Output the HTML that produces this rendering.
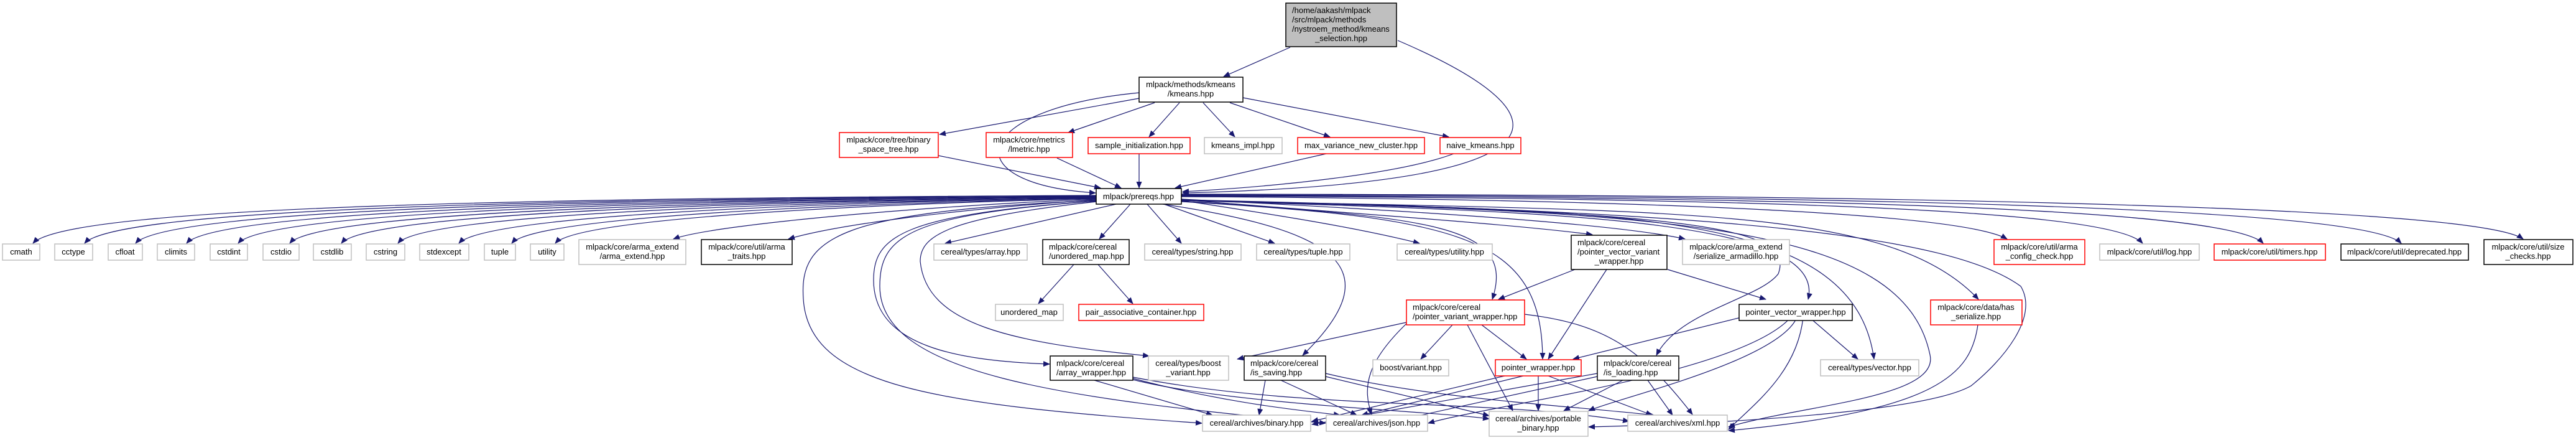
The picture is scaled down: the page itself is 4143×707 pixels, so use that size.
<!DOCTYPE html>
<html><head><meta charset="utf-8"><style>
html,body{margin:0;padding:0;background:#fff;}
svg{display:block;}
text{font-family:"Liberation Sans",Arial,sans-serif;font-size:13px;fill:#000;}
.e{fill:none;stroke:#191970;stroke-width:1.2;marker-end:url(#a);}
.g{fill:#fff;stroke:#bfbfbf;stroke-width:1.5}
.r{fill:#fff;stroke:#ff0000;stroke-width:1.5}
.b{fill:#fff;stroke:#000;stroke-width:1.5}
</style></head><body>
<svg width="4143" height="707" viewBox="0 0 4143 707" xmlns="http://www.w3.org/2000/svg">
<defs><marker id="a" markerWidth="11" markerHeight="9" refX="10" refY="4.5" orient="auto" markerUnits="userSpaceOnUse"><path d="M0,0 L11,4.5 L0,9 z" fill="#191970"/></marker></defs>

<!-- edges top -->
<path class="e" d="M2075,76 L1968,123"/>
<path class="e" d="M2248,65 C2540,190 2530,295 1902,310"/>
<path class="e" d="M1832,158 L1511,216"/>
<path class="e" d="M1832,149 C1560,175 1530,295 1762,310"/>
<path class="e" d="M1857,165 L1718,213"/>
<path class="e" d="M1897,165 L1848,220"/>
<path class="e" d="M1935,165 L1986,220"/>
<path class="e" d="M1978,165 L2139,220"/>
<path class="e" d="M1999,157 L2330,220"/>
<path class="e" d="M1509,250 L1770,302"/>
<path class="e" d="M1700,254 L1803,302"/>
<path class="e" d="M1832,247 L1832,302"/>
<path class="e" d="M2133,247 L1890,302"/>
<path class="e" d="M2338,247 C2250,280 2050,300 1902,308"/>

<!-- prereqs to left row -->
<path class="e" d="M1764,314 C900,318 110,330 53,391"/>
<path class="e" d="M1764,315 C950,319 190,332 136,391"/>
<path class="e" d="M1764,315 C1000,320 270,334 218,391"/>
<path class="e" d="M1764,316 C1050,321 350,336 300,391"/>
<path class="e" d="M1764,316 C1100,322 430,338 383,391"/>
<path class="e" d="M1764,317 C1150,323 510,340 466,391"/>
<path class="e" d="M1764,317 C1200,324 590,342 549,391"/>
<path class="e" d="M1764,318 C1250,325 680,344 640,391"/>
<path class="e" d="M1764,318 C1300,326 780,346 738,391"/>
<path class="e" d="M1764,319 C1350,327 860,348 823,391"/>
<path class="e" d="M1764,319 C1400,328 930,350 893,391"/>
<path class="e" d="M1764,320 C1500,330 1150,360 1083,384"/>
<path class="e" d="M1764,321 C1550,335 1350,360 1268,384"/>
<path class="e" d="M1795,328 L1520,391"/>
<path class="e" d="M1818,328 L1768,384"/>
<path class="e" d="M1845,328 L1900,391"/>
<path class="e" d="M1872,328 L2050,391"/>
<path class="e" d="M1900,322 C2050,345 2180,365 2283,391"/>
<path class="e" d="M1900,321 C2200,345 2430,360 2561,377"/>
<path class="e" d="M1900,320 C2300,340 2600,360 2710,384"/>
<path class="e" d="M1900,316 C2600,320 3150,340 3228,384"/>
<path class="e" d="M1900,315 C2700,318 3390,330 3446,391"/>
<path class="e" d="M1900,314 C2800,316 3580,330 3640,391"/>
<path class="e" d="M1900,313 C2900,314 3800,330 3862,391"/>
<path class="e" d="M1900,312 C3000,312 3980,330 4058,384"/>
<!-- prereqs to lower nodes -->
<path class="e" d="M1900,323 C2300,350 2440,360 2400,481"/>
<path class="e" d="M1900,324 C2350,350 2480,380 2481,577"/>
<path class="e" d="M1900,322 C2500,340 2940,350 2908,481"/>
<path class="e" d="M1900,322 C2700,340 3040,330 3182,481"/>
<path class="e" d="M1900,322 C2600,340 2980,330 3014,577"/>
<path class="e" d="M1900,322 C2700,340 2890,360 2860,440 C2830,480 2700,500 2664,571"/>
<path class="e" d="M1900,322 C2700,340 3060,360 3104,570 C3120,640 2900,650 2780,686"/>
<path class="e" d="M1900,321 C2800,340 3140,380 3250,460 C3280,510 3220,580 3170,620 C3100,660 2800,680 2555,686"/>
<path class="e" d="M1764,322 C1350,340 1285,380 1292,480 C1300,620 1500,650 1933,680"/>
<path class="e" d="M1764,323 C1450,345 1405,380 1405,450 C1405,560 1550,580 1688,585"/>
<path class="e" d="M1764,324 C1520,350 1480,380 1480,420 C1490,520 1620,550 1848,572"/>
<path class="e" d="M1764,323 C1460,345 1415,380 1415,460 C1415,600 1700,640 2132,680"/>
<path class="e" d="M1870,328 C2150,370 2240,430 2095,571"/>

<!-- mid edges -->
<path class="e" d="M1727,425 L1670,488"/>
<path class="e" d="M1766,425 L1822,488"/>
<path class="e" d="M2533,433 L2410,481"/>
<path class="e" d="M2584,433 L2490,577"/>
<path class="e" d="M2682,433 L2840,481"/>
<path class="e" d="M2262,518 L1990,577"/>
<path class="e" d="M2336,522 L2285,577"/>
<path class="e" d="M2383,522 L2455,577"/>
<path class="e" d="M2262,520 C2200,580 2190,620 2206,666"/>
<path class="e" d="M2360,522 L2433,660"/>
<path class="e" d="M2452,505 C2580,520 2640,560 2722,666"/>
<path class="e" d="M2800,510 L2530,577"/>
<path class="e" d="M2910,510 L2988,577"/>
<path class="e" d="M2890,510 C2860,580 2600,640 2555,660"/>
<path class="e" d="M2880,510 C2800,600 2400,650 2297,680"/>
<path class="e" d="M2900,510 C2890,600 2820,650 2780,690"/>
<path class="e" d="M3181,522 C3170,600 3120,660 2780,692"/>
<!-- bottom edges -->
<path class="e" d="M1760,611 L1950,667"/>
<path class="e" d="M1822,608 C1980,650 2100,660 2155,667"/>
<path class="e" d="M1822,610 C1980,650 2300,660 2395,673"/>
<path class="e" d="M1822,606 C2100,660 2400,640 2620,677"/>
<path class="e" d="M2035,611 L2025,667"/>
<path class="e" d="M2060,611 L2182,667"/>
<path class="e" d="M2132,605 L2395,668"/>
<path class="e" d="M2132,600 C2300,640 2500,650 2660,667"/>
<path class="e" d="M2420,604 L2110,677"/>
<path class="e" d="M2450,604 L2190,667"/>
<path class="e" d="M2474,604 L2474,660"/>
<path class="e" d="M2490,604 L2657,667"/>
<path class="e" d="M2569,600 L2110,682"/>
<path class="e" d="M2569,605 L2240,677"/>
<path class="e" d="M2610,611 L2515,660"/>
<path class="e" d="M2650,611 L2690,667"/>

<!-- nodes -->
<rect x="2068" y="5" width="178" height="70" fill="#bfbfbf" stroke="#000" stroke-width="1.5"/>
<text x="2078" y="21">/home/aakash/mlpack</text>
<text x="2078" y="36">/src/mlpack/methods</text>
<text x="2078" y="51">/nystroem_method/kmeans</text>
<text x="2157" y="66" text-anchor="middle">_selection.hpp</text>

<rect class="b" x="1832" y="124" width="167" height="40"/>
<text x="1915" y="140" text-anchor="middle">mlpack/methods/kmeans</text>
<text x="1915" y="155" text-anchor="middle">/kmeans.hpp</text>

<rect class="r" x="1350" y="213" width="159" height="40"/>
<text x="1429" y="229" text-anchor="middle">mlpack/core/tree/binary</text>
<text x="1429" y="244" text-anchor="middle">_space_tree.hpp</text>
<rect class="r" x="1586" y="213" width="139" height="40"/>
<text x="1655" y="229" text-anchor="middle">mlpack/core/metrics</text>
<text x="1655" y="244" text-anchor="middle">/lmetric.hpp</text>
<rect class="r" x="1750" y="221" width="164" height="26"/>
<text x="1832" y="238" text-anchor="middle">sample_initialization.hpp</text>
<rect class="g" x="1937" y="221" width="125" height="26"/>
<text x="1999" y="238" text-anchor="middle">kmeans_impl.hpp</text>
<rect class="r" x="2087" y="221" width="204" height="26"/>
<text x="2189" y="238" text-anchor="middle">max_variance_new_cluster.hpp</text>
<rect class="r" x="2316" y="221" width="130" height="26"/>
<text x="2381" y="238" text-anchor="middle">naive_kmeans.hpp</text>

<rect class="b" x="1763" y="303" width="137" height="25"/>
<text x="1831" y="320" text-anchor="middle">mlpack/prereqs.hpp</text>

<!-- row 3 -->
<rect class="g" x="4" y="392" width="60" height="26"/><text x="34" y="409" text-anchor="middle">cmath</text>
<rect class="g" x="88" y="392" width="61" height="26"/><text x="118" y="409" text-anchor="middle">cctype</text>
<rect class="g" x="174" y="392" width="55" height="26"/><text x="201" y="409" text-anchor="middle">cfloat</text>
<rect class="g" x="253" y="392" width="60" height="26"/><text x="283" y="409" text-anchor="middle">climits</text>
<rect class="g" x="338" y="392" width="60" height="26"/><text x="368" y="409" text-anchor="middle">cstdint</text>
<rect class="g" x="423" y="392" width="58" height="26"/><text x="452" y="409" text-anchor="middle">cstdio</text>
<rect class="g" x="504" y="392" width="61" height="26"/><text x="534" y="409" text-anchor="middle">cstdlib</text>
<rect class="g" x="589" y="392" width="62" height="26"/><text x="620" y="409" text-anchor="middle">cstring</text>
<rect class="g" x="675" y="392" width="79" height="26"/><text x="714" y="409" text-anchor="middle">stdexcept</text>
<rect class="g" x="779" y="392" width="50" height="26"/><text x="804" y="409" text-anchor="middle">tuple</text>
<rect class="g" x="853" y="392" width="54" height="26"/><text x="880" y="409" text-anchor="middle">utility</text>
<rect class="g" x="931" y="385" width="172" height="40"/><text x="1017" y="401" text-anchor="middle">mlpack/core/arma_extend</text><text x="1017" y="416" text-anchor="middle">/arma_extend.hpp</text>
<rect class="b" x="1128" y="385" width="146" height="40"/><text x="1201" y="401" text-anchor="middle">mlpack/core/util/arma</text><text x="1201" y="416" text-anchor="middle">_traits.hpp</text>
<rect class="g" x="1502" y="392" width="150" height="26"/><text x="1577" y="409" text-anchor="middle">cereal/types/array.hpp</text>
<rect class="b" x="1677" y="385" width="139" height="40"/><text x="1687" y="401">mlpack/core/cereal</text><text x="1687" y="416">/unordered_map.hpp</text>
<rect class="g" x="1841" y="392" width="155" height="26"/><text x="1918" y="409" text-anchor="middle">cereal/types/string.hpp</text>
<rect class="g" x="2021" y="392" width="150" height="26"/><text x="2096" y="409" text-anchor="middle">cereal/types/tuple.hpp</text>
<rect class="g" x="2247" y="392" width="153" height="26"/><text x="2323" y="409" text-anchor="middle">cereal/types/utility.hpp</text>
<rect class="b" x="2527" y="378" width="154" height="55"/><text x="2537" y="394">mlpack/core/cereal</text><text x="2537" y="409">/pointer_vector_variant</text><text x="2604" y="424" text-anchor="middle">_wrapper.hpp</text>
<rect class="g" x="2706" y="385" width="172" height="40"/><text x="2792" y="401" text-anchor="middle">mlpack/core/arma_extend</text><text x="2792" y="416" text-anchor="middle">/serialize_armadillo.hpp</text>
<rect class="r" x="3207" y="385" width="146" height="40"/><text x="3280" y="401" text-anchor="middle">mlpack/core/util/arma</text><text x="3280" y="416" text-anchor="middle">_config_check.hpp</text>
<rect class="g" x="3377" y="392" width="160" height="26"/><text x="3457" y="409" text-anchor="middle">mlpack/core/util/log.hpp</text>
<rect class="r" x="3561" y="392" width="179" height="26"/><text x="3650" y="409" text-anchor="middle">mlpack/core/util/timers.hpp</text>
<rect class="b" x="3765" y="392" width="205" height="26"/><text x="3867" y="409" text-anchor="middle">mlpack/core/util/deprecated.hpp</text>
<rect class="b" x="3995" y="385" width="143" height="40"/><text x="4066" y="401" text-anchor="middle">mlpack/core/util/size</text><text x="4066" y="416" text-anchor="middle">_checks.hpp</text>

<!-- row 4 -->
<rect class="g" x="1601" y="489" width="109" height="26"/><text x="1655" y="506" text-anchor="middle">unordered_map</text>
<rect class="r" x="1735" y="489" width="201" height="26"/><text x="1835" y="506" text-anchor="middle">pair_associative_container.hpp</text>
<rect class="r" x="2262" y="482" width="190" height="40"/><text x="2272" y="498">mlpack/core/cereal</text><text x="2272" y="513">/pointer_variant_wrapper.hpp</text>
<rect class="b" x="2797" y="489" width="182" height="26"/><text x="2888" y="506" text-anchor="middle">pointer_vector_wrapper.hpp</text>
<rect class="r" x="3105" y="482" width="147" height="40"/><text x="3178" y="498" text-anchor="middle">mlpack/core/data/has</text><text x="3178" y="513" text-anchor="middle">_serialize.hpp</text>

<!-- row 5 -->
<rect class="b" x="1689" y="572" width="133" height="39"/><text x="1699" y="588">mlpack/core/cereal</text><text x="1699" y="603">/array_wrapper.hpp</text>
<rect class="g" x="1847" y="572" width="129" height="39"/><text x="1911" y="588" text-anchor="middle">cereal/types/boost</text><text x="1911" y="603" text-anchor="middle">_variant.hpp</text>
<rect class="b" x="2001" y="572" width="131" height="39"/><text x="2011" y="588">mlpack/core/cereal</text><text x="2011" y="603">/is_saving.hpp</text>
<rect class="g" x="2208" y="578" width="122" height="26"/><text x="2269" y="595" text-anchor="middle">boost/variant.hpp</text>
<rect class="r" x="2405" y="578" width="138" height="26"/><text x="2474" y="595" text-anchor="middle">pointer_wrapper.hpp</text>
<rect class="b" x="2569" y="572" width="131" height="39"/><text x="2579" y="588">mlpack/core/cereal</text><text x="2579" y="603">/is_loading.hpp</text>
<rect class="g" x="2928" y="578" width="158" height="26"/><text x="3007" y="595" text-anchor="middle">cereal/types/vector.hpp</text>

<!-- row 6 -->
<rect class="g" x="1934" y="667" width="174" height="26"/><text x="2021" y="684" text-anchor="middle">cereal/archives/binary.hpp</text>
<rect class="g" x="2133" y="667" width="163" height="26"/><text x="2214" y="684" text-anchor="middle">cereal/archives/json.hpp</text>
<rect class="g" x="2395" y="661" width="159" height="40"/><text x="2474" y="677" text-anchor="middle">cereal/archives/portable</text><text x="2474" y="692" text-anchor="middle">_binary.hpp</text>
<rect class="g" x="2618" y="667" width="160" height="26"/><text x="2698" y="684" text-anchor="middle">cereal/archives/xml.hpp</text>
</svg>
</body></html>
